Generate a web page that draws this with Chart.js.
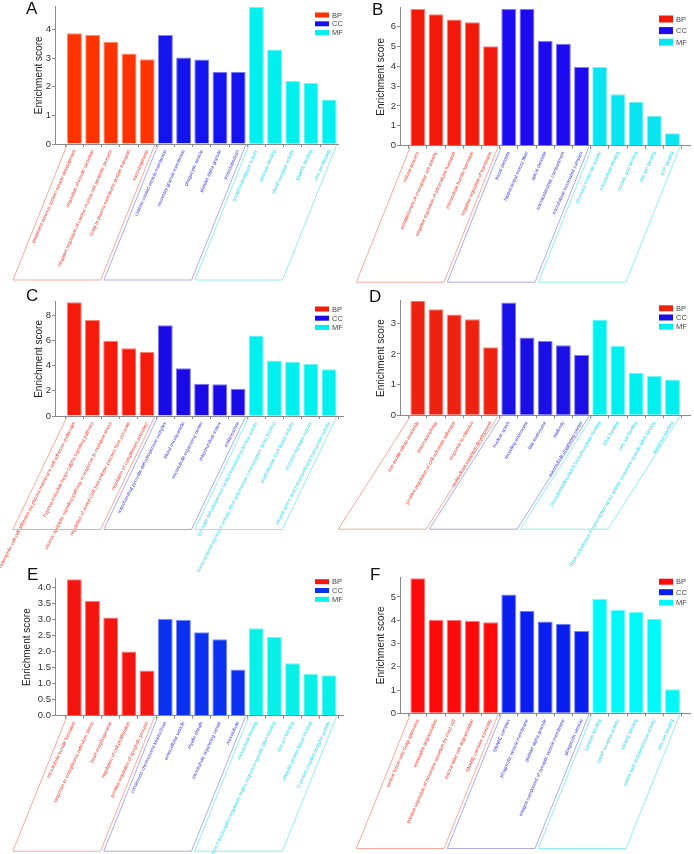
<!DOCTYPE html>
<html>
<head>
<meta charset="utf-8">
<script src="https://cdn.jsdelivr.net/npm/chart.js@4.4.1/dist/chart.umd.min.js"></script>
<style>
  body { margin: 0; background: #fff; width: 694px; height: 854px; position: relative; overflow: hidden;
         font-family: 'Liberation Sans', Arial, sans-serif; }
  canvas { position: absolute; }
  .tag { position: absolute; font-size: 17px; line-height: 17px; color: #111; }
</style>
</head>
<body>
<script>
/* GO enrichment panels A-F */

const GROUPS = ['BP', 'CC', 'MF'];

const A_TERMS = [
  'peripheral nervous system neuron development', 'regulation of insulin secretion',
  'negative regulation of cardiac muscle cell apoptotic process', 'Golgi to plasma membrane protein transport', 'vasculogenesis',
  'clathrin-coated vesicle membrane', 'secretory granule membrane', 'phagocytic vesicle', 'platelet alpha granule', 'pseudopodium',
  'lysophospholipase activity', 'syntaxin binding', 'SNAP receptor activity', 'SNARE binding', 'zinc ion binding',
];
const A_SCORES = [3.86, 3.80, 3.57, 3.16, 2.96, 3.80, 3.02, 2.95, 2.52, 2.52, 4.79, 3.30, 2.20, 2.13, 1.55];

const B_TERMS = [
  'cellular process', 'establishment of monopolar cell polarity', 'negative regulation of intracellular transport',
  'microtubule bundle formation', 'negative regulation of translation',
  'basal dendrite', 'hippocampal mossy fiber', 'apical dendrite', 'somatodendritic compartment', 'microtubule associated complex',
  'structural molecule activity', 'microtubule binding', 'nucleic acid binding', 'zinc ion binding', 'ATP binding',
];
const B_SCORES = [6.87, 6.60, 6.34, 6.21, 5.00, 6.87, 6.87, 5.26, 5.12, 3.95, 3.95, 2.58, 2.20, 1.51, 0.62];

const C_TERMS = [
  'heterophilic cell-cell adhesion via plasma membrane cell adhesion molecules', 'hypoxia-inducible factor-1alpha signaling pathway',
  'intrinsic apoptotic signaling pathway in response to oxidative stress', 'regulation of acetyl-CoA biosynthetic process from pyruvate',
  'regulation of complement activation',
  'mitochondrial pyruvate dehydrogenase complex', 'blood microparticle', 'microtubule organizing center', 'mitochondrial matrix', 'melanosome',
  'pyruvate dehydrogenase (acetyl-transferring) kinase activity',
  'transcriptional repressor activity, RNA polymerase II transcription factor binding',
  'arachidonate-CoA ligase activity', 'enzyme regulator activity', 'neutral amino acid transmembrane transporter activity',
];
const C_SCORES = [9.04, 7.63, 5.99, 5.38, 5.11, 7.21, 3.79, 2.57, 2.52, 2.17, 6.41, 4.42, 4.32, 4.13, 3.71];

const D_TERMS = [
  'non-motile cilium assembly', 'macroautophagy', 'positive regulation of cell-substrate adhesion', 'response to stimulus',
  'multicellular organism development',
  'nuclear speck', 'recycling endosome', 'late endosome', 'midbody', 'microtubule organizing center',
  'phosphatidylinositol-4,5-bisphosphate binding', 'DNA binding', 'zinc ion binding',
  'RNA polymerase II transcription factor activity, sequence-specific DNA binding', 'metal ion binding',
];
const D_SCORES = [3.74, 3.46, 3.29, 3.13, 2.22, 3.68, 2.54, 2.42, 2.28, 1.97, 3.12, 2.26, 1.39, 1.28, 1.17];

const E_TERMS = [
  'microtubule bundle formation', 'response to endoplasmic reticulum stress', 'heart morphogenesis',
  'regulation of cell proliferation', 'positive regulation of apoptotic process',
  'condensed chromosome kinetochore', 'extracellular vesicle', 'myelin sheath', 'microtubule organizing center', 'microtubule',
  'microtubule binding', 'RNA polymerase II transcription regulatory region sequence-specific DNA binding',
  'zinc ion binding', 'ubiquitin protein ligase binding', 'G-protein coupled receptor activity',
];
const E_SCORES = [4.25, 3.58, 3.06, 2.00, 1.41, 3.02, 2.99, 2.60, 2.38, 1.44, 2.72, 2.45, 1.63, 1.30, 1.26];

const F_TERMS = [
  'vesicle fusion with Golgi apparatus', 'eosinophil degranulation', 'positive regulation of histamine secretion by mast cell',
  'natural killer cell degranulation', 'SNARE complex assembly',
  'SNARE complex', 'phagocytic vesicle membrane', 'platelet alpha granule', 'integral component of synaptic vesicle membrane',
  'phagocytic vesicle',
  'syntaxin binding', 'SNAP receptor activity', 'SNARE binding', 'serine-type endopeptidase activity', 'zinc ion binding',
];
const F_SCORES = [5.80, 4.01, 4.01, 3.98, 3.91, 5.10, 4.41, 3.94, 3.85, 3.54, 4.91, 4.45, 4.35, 4.06, 1.03];

const FONT = "'Liberation Sans', Arial, sans-serif";
const AXIS = '#8a8a8a';
const TEXT_COLORS = ['#ee3322', '#3535dd', '#22d8ee'];
const BOX_COLORS  = ['#f5aa9e', '#ababef', '#90eef0'];
const PITCH = 18.19;   // px between bar centres

Chart.defaults.font.family = FONT;

// page layout, all in page pixels
const PANELS = [
  { tag: 'A', terms: A_TERMS, scores: A_SCORES, box: [0, 0, 347, 287], axisX: 55, top: 6.7, zero: 144, paraH: 136.5,
    xEnd: 338, xMin: -1.07, yMax: 4.79, step: 1, rot: 66, slant: 54, titleX: 39, leg: [315, 15, 8.8, 5],
    fill: ['#ff3300', '#1414ee', '#00f0f0'], tagPos: [26, 0] },
  { tag: 'B', terms: B_TERMS, scores: B_SCORES, box: [330, 0, 364, 287], axisX: 400, top: 7.8, zero: 145.7, paraH: 137,
    xEnd: 690, xMin: -0.98, yMax: 6.93, step: 1, rot: 66, slant: 54, titleX: 381.5, leg: [329, 19, 11.6, 7],
    fill: ['#f2180a', '#1c0af0', '#08e4f0'], tagPos: [372, 1] },
  { tag: 'C', terms: C_TERMS, scores: C_SCORES, box: [0, 287, 347, 288], axisX: 55, top: 301.8, zero: 416, paraH: 114,
    xEnd: 343, xMin: -1.06, yMax: 9.08, step: 2, rot: 63, slant: 54, titleX: 39, leg: [315, 22, 9.2, 5],
    fill: ['#f51a0a', '#1a0ae8', '#00f0f0'], tagPos: [26, 287] },
  { tag: 'D', terms: D_TERMS, scores: D_SCORES, box: [330, 287, 364, 288], axisX: 400, top: 300.9, zero: 415.3, paraH: 114.4,
    xEnd: 690, xMin: -0.98, yMax: 3.73, step: 1, rot: 60, slant: 72, titleX: 381.5, leg: [329, 21.3, 9.2, 6],
    fill: ['#ee2210', '#1a10e6', '#00f0f0'], tagPos: [369, 288] },
  { tag: 'E', terms: E_TERMS, scores: E_SCORES, box: [0, 575, 347, 279], axisX: 55, top: 578.6, zero: 715.7, paraH: 136,
    xEnd: 343, xMin: -1.06, yMax: 4.27, step: 0.5, rot: 65, slant: 54, titleX: 27.7, leg: [315, 6.7, 8.8, 5],
    fill: ['#f51510', '#0a30f0', '#08f0e8'], tagPos: [27, 566] },
  { tag: 'F', terms: F_TERMS, scores: F_SCORES, box: [330, 575, 364, 279], axisX: 400, top: 577.4, zero: 713.3, paraH: 135.7,
    xEnd: 690, xMin: -0.98, yMax: 5.84, step: 1, rot: 66, slant: 54, titleX: 381.5, leg: [329, 6.7, 10.5, 6],
    fill: ['#ff0a0a', '#0a1ef0', '#00f8f8'], tagPos: [370, 566] },
];

function lighten(hex, t) {
  const n = parseInt(hex.slice(1), 16);
  const c = [n >> 16, (n >> 8) & 255, n & 255].map(v => Math.round(v + (255 - v) * t));
  return `rgb(${c.join(',')})`;
}

// slanted boxes under each group of labels
const groupBoxes = {
  id: 'groupBoxes',
  afterDraw(chart, args, opts) {
    const { ctx } = chart;
    const x = chart.scales.x;
    const half = (x.getPixelForValue(1) - x.getPixelForValue(0)) * 0.82 / 2;
    const top = chart.chartArea.bottom + 1;
    const bottom = chart.chartArea.bottom + opts.height - 0.5;
    GROUPS.forEach((g, gi) => {
      const l = x.getPixelForValue(gi * 5) - half;
      const r = x.getPixelForValue(gi * 5 + 4) + half;
      ctx.save();
      ctx.strokeStyle = BOX_COLORS[gi];
      ctx.lineWidth = 1;
      ctx.beginPath();
      ctx.moveTo(l, top);
      ctx.lineTo(l - opts.slant, bottom);
      ctx.lineTo(r - opts.slant, bottom);
      ctx.lineTo(r, top);
      ctx.stroke();
      ctx.restore();
    });
  },
};

// stacked legend in the top right corner
const cornerLegend = {
  id: 'cornerLegend',
  afterDraw(chart, args, opts) {
    const { ctx } = chart;
    const [lx, ly, gap, bh] = opts.leg;
    chart.data.datasets.forEach((ds, i) => {
      const y = ly + i * gap;
      ctx.save();
      ctx.fillStyle = ds.backgroundColor;
      ctx.fillRect(lx, y - bh / 2, 14, bh);
      ctx.fillStyle = '#444';
      ctx.font = `7.5px ${FONT}`;
      ctx.textBaseline = 'middle';
      ctx.fillText(ds.label, lx + 17, y + 0.5);
      ctx.restore();
    });
  },
};

function renderPanel(p) {
  const [bx, by, bw, bh] = p.box;
  const cv = document.createElement('canvas');
  cv.width = bw; cv.height = bh;
  cv.style.left = bx + 'px';
  cv.style.top = by + 'px';
  document.body.appendChild(cv);

  const tag = document.createElement('div');
  tag.className = 'tag';
  tag.textContent = p.tag;
  tag.style.left = p.tagPos[0] + 'px';
  tag.style.top = p.tagPos[1] + 'px';
  document.body.appendChild(tag);

  const xMax = p.xMin + (p.xEnd - p.axisX) / PITCH;
  const xHeight = by + bh - p.zero;   // axis box runs to the bottom of the canvas
  const datasets = GROUPS.map((g, gi) => ({
    label: g,
    data: p.scores.slice(gi * 5, gi * 5 + 5).map((v, k) => ({ x: gi * 5 + k, y: v })),
    backgroundColor: p.fill[gi],
    borderColor: lighten(p.fill[gi], 0.45),
    borderWidth: 1,
    grouped: false,
    barPercentage: 0.82,
    categoryPercentage: 1,
  }));

  new Chart(cv, {
    type: 'bar',
    data: { datasets },
    plugins: [groupBoxes, cornerLegend],
    options: {
      responsive: false,
      animation: false,
      layout: {
        padding: { left: 0, top: p.top - by, right: bx + bw - p.xEnd, bottom: 0 },
      },
      plugins: {
        legend: { display: false },
        tooltip: { enabled: false },
        groupBoxes: { slant: p.slant, height: p.paraH },
        cornerLegend: { leg: p.leg },
      },
      scales: {
        x: {
          type: 'linear',
          min: p.xMin, max: xMax, offset: false,
          afterBuildTicks: s => { s.ticks = p.terms.map((_, i) => ({ value: i })); },
          afterFit: s => { s.height = xHeight; s.paddingLeft = 0; s.paddingRight = 0; },
          grid: { display: true, drawOnChartArea: false, tickLength: 3, color: AXIS },
          border: { color: AXIS },
          ticks: {
            autoSkip: false, minRotation: p.rot, maxRotation: p.rot, padding: 2,
            font: { size: 4.8 },
            color: c => TEXT_COLORS[Math.floor(c.index / 5)],
            callback: v => p.terms[v] ?? '',
          },
        },
        y: {
          min: 0, max: p.yMax,
          afterFit: s => { s.width = p.axisX - bx; s.paddingTop = 0; s.paddingBottom = 0; },
          grid: { drawOnChartArea: false, tickLength: 3, color: AXIS },
          border: { color: AXIS },
          ticks: {
            stepSize: p.step, includeBounds: false, padding: 1,
            font: { size: 9.5 }, color: '#333',
            callback: v => p.step < 1 ? v.toFixed(1) : v,
          },
          title: {
            display: true, text: 'Enrichment score', color: '#222', font: { size: 10 },
            padding: { top: p.titleX - bx - 6, bottom: 0 },
          },
        },
      },
    },
  });
}

PANELS.forEach(renderPanel);
</script>
</body>
</html>
